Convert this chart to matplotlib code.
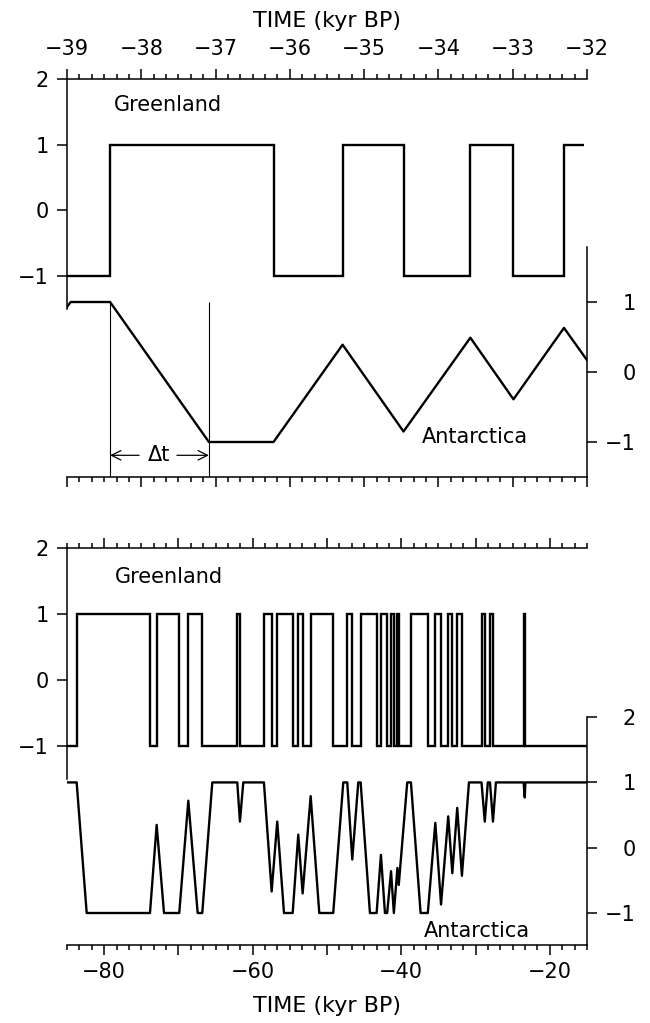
import numpy as np
import matplotlib
matplotlib.use('Agg')
import matplotlib.pyplot as plt
from matplotlib.ticker import MultipleLocator, FuncFormatter

plt.rcParams['font.family'] = ['DejaVu Sans']
plt.rcParams['font.weight'] = 'normal'
plt.rcParams['axes.unicode_minus'] = True

# ---------------- data ----------------
# Top panel (zoom, kyr BP)
top_xlim = (-39.0, -32.0)
top_g_edges = [-39.0, -38.42, -36.22, -35.29, -34.47, -33.57, -32.99, -32.31, -32.04]
top_g_state = [-1, 1, -1, 1, -1, 1, -1, 1]
top_a_time = [-39.0, -38.95, -38.42, -37.09, -36.22, -35.29, -34.47, -33.57,
              -32.99, -32.31, -32.0]
top_a_val = [0.93, 1, 1, -1, -1, 0.39, -0.85, 0.49, -0.39, 0.63, 0.17]
dt_start, dt_end = -38.42, -37.09

# Bottom panel (full record, kyr BP)
bot_xlim = (-85.0, -15.0)
bot_g_edges = [-85.0, -83.7, -73.83, -72.93, -69.89, -68.67, -66.79, -62.08, -61.72,
               -58.49, -57.45, -56.70, -54.62, -53.87, -53.28, -52.20, -49.16,
               -47.27, -46.60, -45.47, -43.32, -42.74, -41.90, -41.38, -41.00,
               -40.52, -40.34, -38.70, -36.43, -35.42, -34.65, -33.68, -33.13,
               -32.47, -31.84, -29.20, -28.76, -28.06, -27.66, -23.53, -23.36, -15.0]
bot_g_state = [-1, 1] * 20 + [-1]
bot_a_time = [-85.0, -83.7, -82.35, -73.83, -72.93, -71.94, -69.89, -68.67, -67.41,
              -66.79, -65.44, -62.08, -61.72, -61.27, -58.49, -57.45, -56.70, -55.79,
              -54.62, -53.87, -53.28, -52.20, -51.04, -49.16, -47.81, -47.27, -46.60,
              -45.79, -45.47, -44.22, -43.32, -42.74, -42.20, -41.90, -41.38, -41.00,
              -40.52, -40.34, -39.20, -38.70, -37.40, -36.43, -35.42, -34.65, -33.68,
              -33.13, -32.47, -31.84, -30.89, -29.20, -28.76, -28.35, -28.06, -27.66,
              -27.26, -23.53, -23.38, -23.30, -15.0]
bot_a_val = [1, 1, -1, -1, 0.35, -1, -1, 0.72, -1, -1, 1, 1, 0.40, 1, 1, -0.67, 0.40,
             -1, -1, 0.20, -0.70, 0.79, -1, -1, 1, 1, -0.18, 1, 1, -1, -1, -0.11, -1,
             -1, -0.36, -1, -0.31, -0.57, 1, 1, -1, -1, 0.38, -0.87, 0.48, -0.39, 0.61,
             -0.43, 1, 1, 0.40, 1, 1, 0.40, 1, 1, 0.77, 1, 1]

xlabel = 'TIME (kyr BP)'

# ---------------- figure ----------------
W, H = 650, 1023
fig = plt.figure(figsize=(W / 100, H / 100), dpi=100)


def rect(x0, x1, ytop, ybot):
    return [x0 / W, 1 - ybot / H, (x1 - x0) / W, (ybot - ytop) / H]


LW = 1.7
FS = 15
FSL = 16
MAJ, MIN = 7.2, 3.4


def make_panel(r, xlim, g_ylim, a_ylim, a_spine_top, a_ticks, major, minor):
    ax = fig.add_axes(r)
    ax.set_xlim(*xlim)
    ax.set_ylim(*g_ylim)
    ax2 = ax.twinx()
    ax2.set_ylim(*a_ylim)
    ax.spines['right'].set_visible(False)
    for s in ['left', 'top', 'bottom']:
        ax2.spines[s].set_visible(False)
    ax.spines['left'].set_bounds(-1.5, 2)
    ax2.spines['right'].set_bounds(a_ylim[0], a_spine_top)
    for a in (ax, ax2):
        for s in a.spines.values():
            s.set_linewidth(1.1)
    ax.set_yticks([-1, 0, 1, 2])
    ax2.set_yticks(a_ticks)
    ax.xaxis.set_major_locator(MultipleLocator(major))
    ax.xaxis.set_minor_locator(MultipleLocator(minor))
    ax.tick_params(axis='x', which='both', top=True, bottom=True, direction='out',
                   width=1.1)
    ax.tick_params(axis='x', which='major', length=MAJ)
    ax.tick_params(axis='x', which='minor', length=MIN)
    ax.tick_params(axis='y', which='major', length=MAJ, width=1.1, direction='out',
                   labelsize=FS, pad=6)
    ax2.tick_params(axis='y', which='major', length=MAJ, width=1.1, direction='out',
                    labelsize=FS, pad=28)
    for lab in ax2.get_yticklabels():
        lab.set_horizontalalignment('right')
    ax.patch.set_visible(False)
    return ax, ax2


# Top panel
axT, axT2 = make_panel(rect(67, 587, 79, 477), top_xlim, (-4.058, 2.0),
                       (-1.5, 4.186), 1.79, [-1, 0, 1], 1.0, 1.0 / 6)
axT.tick_params(axis='x', which='major', labeltop=True, labelbottom=False,
                labelsize=FS, pad=7)
axT.xaxis.set_label_position('top')
axT.set_xlabel(xlabel, fontsize=FSL, labelpad=9)

axT.stairs(top_g_state, top_g_edges, baseline=None, color='k', lw=LW)
axT2.plot(top_a_time, top_a_val, color='k', lw=LW)
axT2.vlines([dt_start, dt_end], -1.5, 1.0, color='k', lw=0.8)
y_dt = -1.19
axT2.text((dt_start + dt_end) / 2, y_dt, 'Δt', ha='center', va='center',
          fontsize=FS)
axT2.annotate('', xy=(dt_start, y_dt), xytext=(-38.03, y_dt),
              arrowprops=dict(arrowstyle='->', lw=0.9, color='k', shrinkA=0,
                              shrinkB=0, mutation_scale=17))
axT2.annotate('', xy=(dt_end, y_dt), xytext=(-37.52, y_dt),
              arrowprops=dict(arrowstyle='->', lw=0.9, color='k', shrinkA=0,
                              shrinkB=0, mutation_scale=17))
axT.text(-38.37, 1.6, 'Greenland', ha='left', va='center', fontsize=FS)
axT2.text(-34.22, -0.93, 'Antarctica', ha='left', va='center', fontsize=FS)

# Bottom panel
axB, axB2 = make_panel(rect(67, 587, 548, 945), bot_xlim, (-4.02, 2.0),
                       (-1.49, 4.59), 2.0, [-1, 0, 1, 2], 10.0, 10.0 / 6)
axB.xaxis.set_major_formatter(FuncFormatter(
    lambda v, p: ('\u2212%d' % abs(round(v)) if v < 0 else '%d' % round(v))
    if round(v) % 20 == 0 else ''))
axB.tick_params(axis='x', which='major', labeltop=False, labelbottom=True,
                labelsize=FS, pad=5)
axB.set_xlabel(xlabel, fontsize=FSL, labelpad=10)

axB.stairs(bot_g_state, bot_g_edges, baseline=None, color='k', lw=LW)
axB2.plot(bot_a_time, bot_a_val, color='k', lw=LW)
axB.text(-78.6, 1.56, 'Greenland', ha='left', va='center', fontsize=FS)
axB2.text(-37.0, -1.27, 'Antarctica', ha='left', va='center', fontsize=FS)

fig.savefig('out.png', dpi=100)
